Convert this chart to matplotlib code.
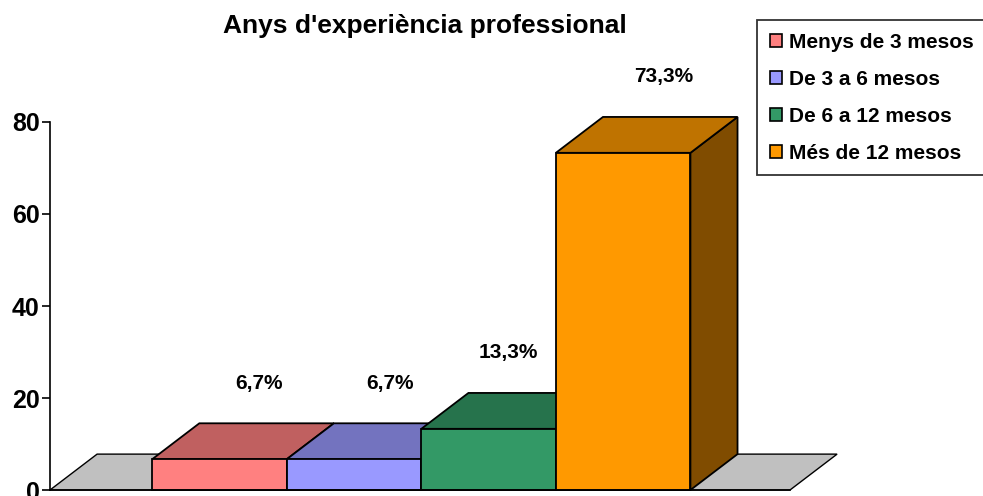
import matplotlib
matplotlib.use('Agg')
import matplotlib.pyplot as plt
from matplotlib.patches import Polygon, Patch

categories = ['Menys de 3 mesos', 'De 3 a 6 mesos', 'De 6 a 12 mesos', 'Més de 12 mesos']
values = [6.7, 6.7, 13.3, 73.3]
value_labels = ['6,7%', '6,7%', '13,3%', '73,3%']
front_colors = ['#FF8080', '#9999FF', '#339966', '#FF9900']
top_colors = ['#C06060', '#7373BF', '#26734C', '#BF7300']
side_colors = ['#804040', '#4D4D80', '#1A4D33', '#804C00']
y_ticks = [0, 20, 40, 60, 80]

# small nudges of the value labels, like excel places them
label_nudge = [0.29, 0.27, 0.15, 0.30]

plt.rcParams['font.family'] = ['Liberation Sans', 'DejaVu Sans']
plt.rcParams['font.weight'] = 'bold'

fig = plt.figure(figsize=(9.83, 4.96), dpi=100)
ax = fig.add_axes([50 / 983, 6 / 496, 740 / 983, 368 / 496])

x0, x1 = -1.26, 4.24
dx, dy = 0.35, 7.8  # depth of the fake 3d box, in data units

ax.set_xlim(x0, x1)
ax.set_ylim(0, 80)

# floor
floor = Polygon([(x0, 0), (x1, 0), (x1 + dx, dy), (x0 + dx, dy)],
                closed=True, facecolor='#C0C0C0', edgecolor='black',
                linewidth=1, zorder=1, clip_on=False)
ax.add_patch(floor)

bars = ax.bar(range(len(values)), values, width=1.0, color=front_colors,
              edgecolor='black', linewidth=1.3, clip_on=False)

for i, b in enumerate(bars):
    left = b.get_x()
    right = left + b.get_width()
    h = b.get_height()
    side = Polygon([(right, 0), (right + dx, dy), (right + dx, h + dy), (right, h)],
                   facecolor=side_colors[i], edgecolor='black', linewidth=1.3,
                   zorder=3 + 3 * i, clip_on=False)
    top = Polygon([(left, h), (right, h), (right + dx, h + dy), (left + dx, h + dy)],
                  facecolor=top_colors[i], edgecolor='black', linewidth=1.3,
                  zorder=4 + 3 * i, clip_on=False)
    ax.add_patch(side)
    ax.add_patch(top)
    b.set_zorder(5 + 3 * i)
    ax.text(b.get_x() + b.get_width() / 2 + label_nudge[i], h + dy + 8.7, value_labels[i],
            ha='center', va='center', fontsize=15, fontweight='bold', zorder=30)

ax.spines['top'].set_visible(False)
ax.spines['right'].set_visible(False)
ax.spines['left'].set_linewidth(1.2)
ax.spines['bottom'].set_linewidth(1.2)
ax.spines['left'].set_zorder(40)
ax.spines['bottom'].set_zorder(40)
ax.set_xticks([])
ax.set_yticks(y_ticks)
ax.tick_params(axis='y', direction='out', length=6, width=1.2, pad=1.5, labelsize=18)
for lab in ax.get_yticklabels():
    lab.set_fontweight('bold')

fig.text(425 / 983, 1 - 26 / 496, "Anys d'experiència professional",
         ha='center', va='center', fontsize=19, fontweight='bold')

handles = [Patch(facecolor=c, edgecolor='black', linewidth=1.2) for c in front_colors]
leg = fig.legend(handles, categories, loc='upper left',
                 bbox_to_anchor=(757 / 983, 1 - 20 / 496), borderaxespad=0,
                 fancybox=False, frameon=True, fontsize=15, handlelength=0.6,
                 handleheight=0.6, handletextpad=0.35, labelspacing=0.87,
                 borderpad=0.6)
leg.get_frame().set_edgecolor('black')
leg.get_frame().set_linewidth(1.3)
for t in leg.get_texts():
    t.set_fontweight('bold')

fig.savefig('out.png', dpi=100)
